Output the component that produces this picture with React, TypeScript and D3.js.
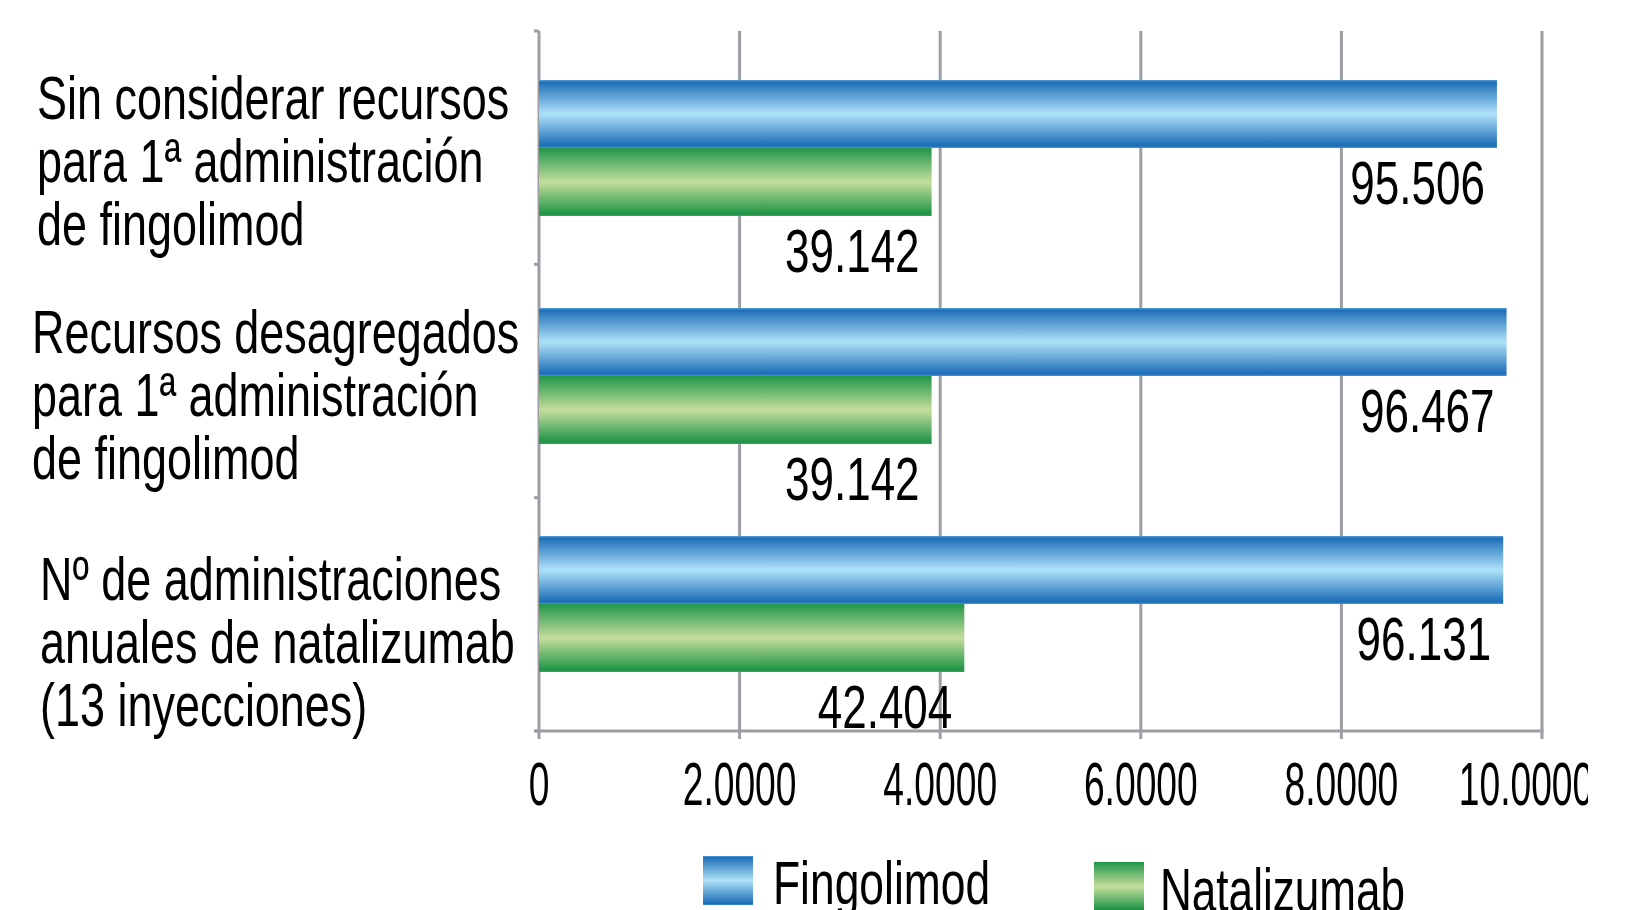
import React from "react";
import * as d3 from "d3";

// ---------- data ----------
const categories: string[][] = [
  ["Sin considerar recursos", "para 1ª administración", "de fingolimod"],
  ["Recursos desagregados", "para 1ª administración", "de fingolimod"],
  ["Nº de administraciones", "anuales de natalizumab", "(13 inyecciones)"],
];
const categoryKeys = ["c1", "c2", "c3"];
const fingolimod = [95506, 96467, 96131];
const natalizumab = [39142, 39142, 42404];
const seriesNames = ["Fingolimod", "Natalizumab"];
const tickValues = [0, 20000, 40000, 60000, 80000, 100000];
const tickLabels = ["0", "2.0000", "4.0000", "6.0000", "8.0000", "10.0000"];

// ---------- layout / style ----------
const W = 1630;
const H = 910;
const X0 = 539;
const X1 = 1542;
const PLOT_TOP = 31;
const PLOT_BOTTOM = 731;
const GRID = "#9c9ea3";
const FONT = "'Liberation Sans', Arial, Helvetica, sans-serif";
const LABEL_DX = [37, 32, 40];
const LABEL_DY = [34, 35, 49];

const locale = d3.formatLocale({
  decimal: ",",
  thousands: ".",
  grouping: [3],
  currency: ["", "€"],
});
const fmt = locale.format(",d");

function CText(props: {
  x: number;
  y: number;
  s: number;
  size: number;
  anchor?: string;
  children: React.ReactNode;
}) {
  const { x, y, s, size, anchor, children } = props;
  return (
    <text
      transform={`translate(${x},${y}) scale(${s},1)`}
      fontFamily={FONT}
      fontSize={size}
      textAnchor={anchor || "start"}
      fill="#000"
    >
      {children}
    </text>
  );
}

export default function App() {
  const x = d3.scaleLinear().domain([0, 100000]).range([X0, X1]);
  const yBand = d3
    .scaleBand<string>()
    .domain(categoryKeys)
    .range([32, 720])
    .paddingInner(0.4035)
    .paddingOuter(0.2105);
  const sub = d3
    .scaleBand<string>()
    .domain(seriesNames)
    .range([0, yBand.bandwidth()]);
  const yAxisBand = d3
    .scaleBand<string>()
    .domain(categoryKeys)
    .range([PLOT_TOP, PLOT_BOTTOM]);

  const series = [fingolimod, natalizumab];
  const grads = ["gBlue", "gGreen"];
  const yTicks = [PLOT_TOP, ...categoryKeys.map((k) => (yAxisBand(k) as number) + yAxisBand.bandwidth())];

  return (
    <svg
      width={W}
      height={H}
      style={{ position: "absolute", left: 0, top: 0, background: "#fff" }}
    >
      <defs>
        <linearGradient id="gBlue" x1="0" y1="0" x2="0" y2="1">
          <stop offset="0" stopColor="#5aa3da" />
          <stop offset="0.03" stopColor="#1e6fb8" />
          <stop offset="0.5" stopColor="#afe2f8" />
          <stop offset="0.97" stopColor="#1a6cb6" />
          <stop offset="1" stopColor="#4a98d4" />
        </linearGradient>
        <linearGradient id="gGreen" x1="0" y1="0" x2="0" y2="1">
          <stop offset="0" stopColor="#219549" />
          <stop offset="0.5" stopColor="#c4de9c" />
          <stop offset="0.97" stopColor="#1f9447" />
          <stop offset="1" stopColor="#3aa35c" />
        </linearGradient>
        <clipPath id="clipRight">
          <rect x={0} y={0} width={1588} height={H} />
        </clipPath>
      </defs>

      {/* gridlines + bottom ticks */}
      {tickValues.map((v, i) => (
        <line
          key={"g" + i}
          x1={x(v)}
          x2={x(v)}
          y1={PLOT_TOP}
          y2={PLOT_BOTTOM + 8}
          stroke={GRID}
          strokeWidth={3}
        />
      ))}
      {/* bottom axis */}
      <line x1={X0 - 4} x2={X1 + 1.5} y1={PLOT_BOTTOM} y2={PLOT_BOTTOM} stroke={GRID} strokeWidth={3} />
      {/* left axis ticks */}
      {yTicks.map((t, i) => (
        <line key={"yt" + i} x1={X0 - 5} x2={X0} y1={t} y2={t} stroke={GRID} strokeWidth={3} />
      ))}

      {/* bars */}
      {series.map((vals, si) =>
        categoryKeys.map((k, ci) => {
          const y0 = (yBand(k) as number) + (sub(seriesNames[si]) as number);
          return (
            <rect
              key={"b" + si + ci}
              x={x(0)}
              y={y0}
              width={x(vals[ci]) - x(0)}
              height={sub.bandwidth()}
              fill={`url(#${grads[si]})`}
            />
          );
        })
      )}

      {/* data labels */}
      {series.map((vals, si) =>
        categoryKeys.map((k, ci) => {
          const yb = (yBand(k) as number) + (sub(seriesNames[si]) as number) + sub.bandwidth();
          return (
            <CText key={"l" + si + ci} x={x(vals[ci]) - 12} y={yb + 56} s={0.71} size={62} anchor="end">
              {fmt(vals[ci])}
            </CText>
          );
        })
      )}

      {/* category labels */}
      {categories.map((lines, ci) => {
        const cy = (yAxisBand(categoryKeys[ci]) as number) + yAxisBand.bandwidth() / 2;
        return (
          <g key={"c" + ci}>
            {lines.map((ln, li) => (
              <CText key={li} x={LABEL_DX[ci]} y={cy + LABEL_DY[ci] + (li - 1) * 63} s={0.737} size={61}>
                {ln}
              </CText>
            ))}
          </g>
        );
      })}

      {/* tick labels */}
      <g clipPath="url(#clipRight)">
        {tickValues.map((v, i) => (
          <CText
            key={"tl" + i}
            x={x(v) - (i === tickValues.length - 1 ? 16 : 0)}
            y={805}
            s={0.6}
            size={62}
            anchor="middle"
          >
            {tickLabels[i]}
          </CText>
        ))}
      </g>

      {/* legend */}
      <rect x={703} y={856} width={50} height={49} fill="url(#gBlue)" />
      <CText x={773} y={904} s={0.728} size={61}>
        {seriesNames[0]}
      </CText>
      <rect x={1094} y={862} width={50} height={49} fill="url(#gGreen)" />
      <CText x={1160} y={911} s={0.723} size={61}>
        {seriesNames[1]}
      </CText>
    </svg>
  );
}
